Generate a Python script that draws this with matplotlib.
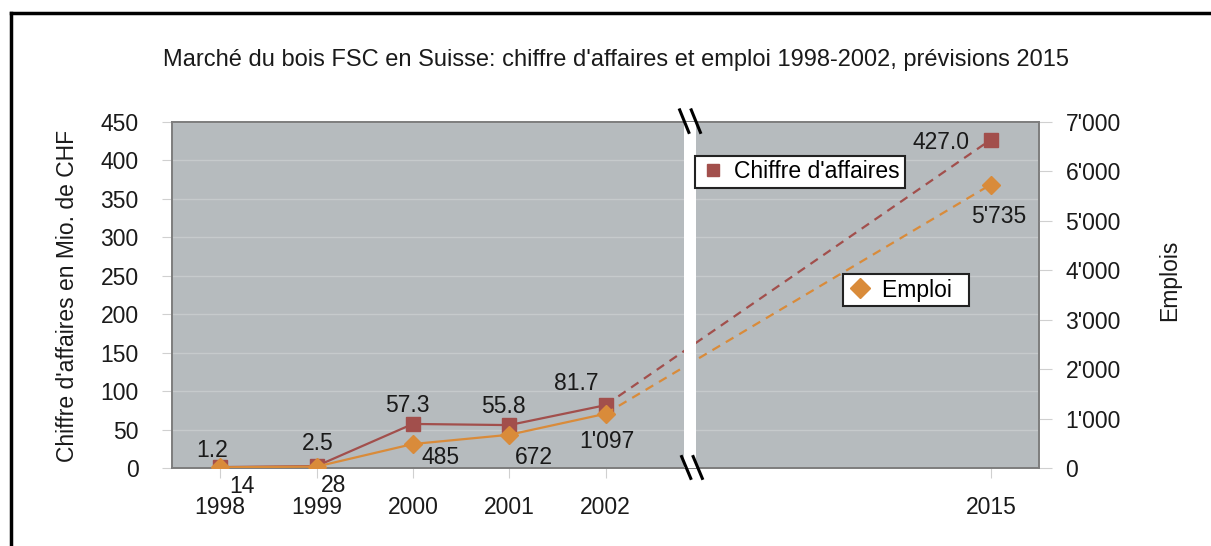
import matplotlib
matplotlib.use("Agg")
import matplotlib.pyplot as plt
from matplotlib.lines import Line2D
from matplotlib.transforms import blended_transform_factory

plt.rcParams['font.family'] = ['Liberation Sans', 'DejaVu Sans']

# donnees
years = ['1998', '1999', '2000', '2001', '2002', '2015']
chiffre = [1.2, 2.5, 57.3, 55.8, 81.7, 427.0]
emploi = [14, 28, 485, 672, 1097, 5735]

# mise en page
x_pos = [0, 1, 2, 3, 4, 8]
off_ch = [(-8, 17), (1, 23), (-5, 18), (-6, 19), (-29, 22), (-50, -3)]
off_em = [(22, -19), (17, -19), (28, -13), (25, -23), (1, -28), (8, -32)]

c_ch = '#a24f4c'
c_em = '#d98b3a'
bg = '#b6bbbe'
grid_c = '#c6cacc'
spine_c = '#7d7d7d'
fs = 16.5

fig = plt.figure(figsize=(12.11, 5.46), dpi=100)
fig.patch.set_facecolor('white')
ax = fig.add_axes([172/1211, 1-468/546, (1039-172)/1211, (468-122)/546])
ax2 = ax.twinx()

ax.set_facecolor(bg)
ax.set_xlim(-0.5, 8.5)
ax.set_ylim(0, 450)
ax2.set_ylim(0, 7000)
ax.set_yticks(range(0, 451, 50))
ax2.set_yticks(range(0, 7001, 1000))
ax2.set_yticklabels([f"{v:,}".replace(',', "'") for v in range(0, 7001, 1000)])
ax.set_xticks(x_pos)
ax.set_xticklabels(years)
ax.grid(axis='y', color=grid_c, lw=1.0)
ax.set_axisbelow(True)

for a in (ax, ax2):
    for s in a.spines.values():
        s.set_color(spine_c)
        s.set_linewidth(1.2)
ax.tick_params(axis='y', length=7, color='#d0d0d0', pad=17, labelsize=fs, labelcolor='#1a1a1a')
ax.tick_params(axis='x', length=7, color='#d0d0d0', pad=13, labelsize=fs, labelcolor='#1a1a1a')
ax2.tick_params(axis='y', length=9, color='#d0d0d0', pad=10, labelsize=fs, labelcolor='#1a1a1a')

# series: continu 1998-2002, pointille vers 2015
ax.plot(x_pos[:5], chiffre[:5], color=c_ch, lw=1.6, zorder=3)
ax.plot(x_pos[4:], chiffre[4:], color=c_ch, lw=1.6, ls=(0, (4, 3)), zorder=3)
ax.plot(x_pos, chiffre, ls='none', marker='s', ms=10, color=c_ch, zorder=4)

ax2.plot(x_pos[:5], emploi[:5], color=c_em, lw=1.6, zorder=3)
ax2.plot(x_pos[4:], emploi[4:], color=c_em, lw=1.6, ls=(0, (4, 3)), zorder=3)
ax2.plot(x_pos, emploi, ls='none', marker='D', ms=9, color=c_em, zorder=4)

for x, v, o in zip(x_pos, chiffre, off_ch):
    ax.annotate(f"{v:.1f}", (x, v), xytext=o, textcoords='offset pixels',
                ha='center', va='center', fontsize=fs, color='#1a1a1a', zorder=6)
for x, v, o in zip(x_pos, emploi, off_em):
    ax2.annotate(f"{v:,}".replace(',', "'"), (x, v), xytext=o, textcoords='offset pixels',
                 ha='center', va='center', fontsize=fs, color='#1a1a1a', zorder=6)

# coupure de l'axe
ax2.axvspan(4.82, 4.94, color='white', zorder=5, lw=0)
tr = blended_transform_factory(ax.transData, ax.transAxes)
for x0 in (4.77, 4.89):
    ax2.plot([x0, x0 + 0.095], [1.035, 0.97], transform=tr, color='black', lw=2.2,
             clip_on=False, zorder=7)
    ax2.plot([x0 + 0.02, x0 + 0.115], [0.033, -0.03], transform=tr, color='black', lw=2.2,
             clip_on=False, zorder=7)

# legendes
h_ch = Line2D([], [], ls='none', marker='s', ms=8, color=c_ch)
h_em = Line2D([], [], ls='none', marker='D', ms=10, color=c_em)
for h, lab, pos in ((h_ch, "Chiffre d'affaires", (800/1211, 1-172/546)),
                    (h_em, "Emploi  ", (906/1211, 1-290/546))):
    lg = fig.legend([h], [lab], loc='center', bbox_to_anchor=pos, fontsize=fs,
                    fancybox=False, framealpha=1, edgecolor='#222222',
                    handletextpad=0.4, borderpad=0.2, handlelength=1.1)
    lg.get_frame().set_linewidth(1.5)

fig.text(616/1211, 1-60/546,
         "Marché du bois FSC en Suisse: chiffre d'affaires et emploi 1998-2002, prévisions 2015",
         ha='center', va='center', fontsize=17, color='#1a1a1a')
fig.text(68/1211, 1-296/546, "Chiffre d'affaires en Mio. de CHF", rotation=90,
         ha='center', va='center', fontsize=fs, color='#1a1a1a')
fig.text(1170/1211, 1-280/546, "Emplois", rotation=90,
         ha='center', va='center', fontsize=fs, color='#1a1a1a')

# cadre
fig.add_artist(Line2D([11/1211, 1], [1-13/546, 1-13/546], color='black', lw=2.5))
fig.add_artist(Line2D([11/1211, 11/1211], [0, 1-13/546], color='black', lw=2.5))

fig.savefig('out.png', dpi=100)
